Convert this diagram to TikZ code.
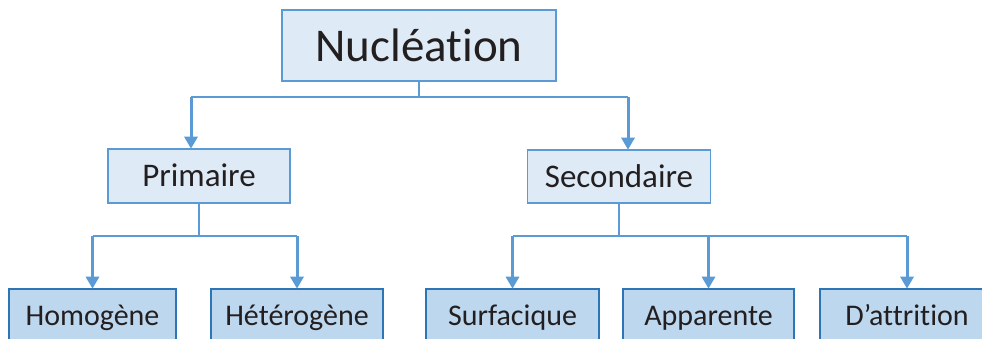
\documentclass[tikz,border=0pt]{standalone}
\usepackage{fontspec}
\setmainfont[Ligatures=NoCommon]{Carlito}
\usetikzlibrary{arrows.meta,calc}
\definecolor{lightfill}{HTML}{DEEBF7}
\definecolor{lightline}{HTML}{5B9BD5}
\definecolor{darkfill}{HTML}{BDD7EE}
\definecolor{darkline}{HTML}{2E75B6}
\definecolor{txt}{HTML}{231F20}
\tikzset{
  fsize/.style={font=\fontsize{#1}{#1}\selectfont, text height=0.86*#1pt, text depth=0.2*#1pt},
  topbox/.style={draw=lightline, fill=lightfill, line width=1.6pt, text=txt, inner sep=0pt},
  leafbox/.style={draw=darkline, fill=darkfill, line width=1.6pt, text=txt,
    inner sep=0pt, minimum height=54pt, fsize=30},
  link/.style={draw=lightline, line width=1.6pt},
  arr/.style={draw=lightline, line width=3pt,
    -{Triangle[length=12pt,width=13pt]}, shorten >=-0.5pt}
}
\begin{document}
\begin{tikzpicture}[x=1pt,y=1pt]
\useasboundingbox (0,0) rectangle (982,-338);
\clip (0,0) rectangle (982,-338);
% nodes
\node[topbox, minimum width=274pt, minimum height=71pt, fsize=47] (nuc) at (419,-45.5) {Nucléation};
\node[topbox, minimum width=182pt, minimum height=54pt, fsize=33] (prim) at (199,-176) {Primaire};
\node[topbox, minimum width=183pt, minimum height=53pt, fsize=33] (sec) at (619,-176.5) {Secondaire};
\node[leafbox, minimum width=167pt] (hom) at (92.5,-316) {Homogène};
\node[leafbox, minimum width=172pt] (het) at (297,-316) {Hétérogène};
\node[leafbox, minimum width=173pt] (sur) at (512.5,-316) {Surfacique};
\node[leafbox, minimum width=171pt] (app) at (708.5,-316) {Apparente};
\node[leafbox, minimum width=174pt] (att) at (907,-316) {D’attrition};
% arrow targets
\coordinate (pa) at ([xshift=-8pt]prim.north);
\coordinate (sa) at ([xshift=9pt]sec.north);
% level 1
\draw[link] (nuc.south) -- (nuc.south |- 0,-97) coordinate (b1);
\draw[link] (b1 -| pa) -- (b1 -| sa);
\draw[arr] (pa |- b1) -- (pa);
\draw[arr] (sa |- b1) -- (sa);
% level 2 left
\draw[link] (prim.south) -- (prim.south |- 0,-236) coordinate (b2);
\draw[link] (b2 -| hom.north) -- (b2 -| het.north);
\draw[arr] (hom.north |- b2) -- (hom.north);
\draw[arr] (het.north |- b2) -- (het.north);
% level 2 right
\draw[link] (sec.south) -- (sec.south |- 0,-236) coordinate (b3);
\draw[link] (b3 -| sur.north) -- (b3 -| att.north);
\draw[arr] (sur.north |- b3) -- (sur.north);
\draw[arr] (app.north |- b3) -- (app.north);
\draw[arr] (att.north |- b3) -- (att.north);
\end{tikzpicture}
\end{document}
